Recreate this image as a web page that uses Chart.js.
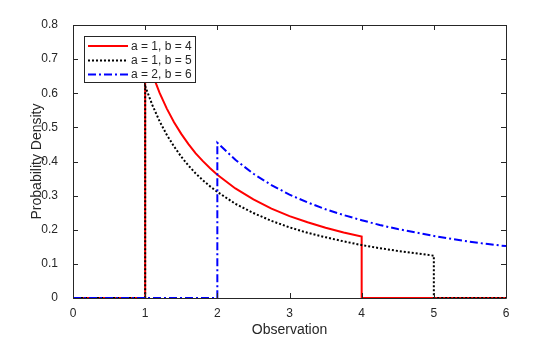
<!DOCTYPE html>
<html>
<head>
<meta charset="utf-8">
<script src="https://cdn.jsdelivr.net/npm/chart.js@4/dist/chart.umd.min.js"></script>
<style>
  html, body { margin: 0; padding: 0; background: #fff; }
  #wrap { width: 560px; height: 337px; }
</style>
</head>
<body>
<div id="wrap"><canvas id="grafica" width="560" height="337"></canvas></div>
<script>
// densidades recíprocas (x, y)
const xRojo = [0, 1, 1, 1.1, 1.2, 1.3, 1.4, 1.5, 1.6, 1.7, 1.8, 1.9, 2, 2.25, 2.5, 2.75, 3, 3.25, 3.5, 3.75, 4, 4, 6];
const yRojo = [0, 0, 0.721, 0.656, 0.601, 0.555, 0.515, 0.481, 0.451, 0.424, 0.401, 0.380, 0.361, 0.321, 0.289, 0.262, 0.240, 0.222, 0.206, 0.192, 0.180, 0, 0];

const xNegro = [0, 1, 1, 1.1, 1.2, 1.3, 1.4, 1.5, 1.6, 1.7, 1.8, 1.9, 2, 2.25, 2.5, 2.75, 3, 3.25, 3.5, 3.75, 4, 4.25, 4.5, 4.75, 5, 5, 6];
const yNegro = [0, 0, 0.621, 0.565, 0.518, 0.478, 0.444, 0.414, 0.388, 0.365, 0.345, 0.327, 0.311, 0.276, 0.249, 0.226, 0.207, 0.191, 0.178, 0.166, 0.155, 0.146, 0.138, 0.131, 0.124, 0, 0];

const xAzul = [0, 2, 2, 2.25, 2.5, 2.75, 3, 3.25, 3.5, 3.75, 4, 4.25, 4.5, 4.75, 5, 5.25, 5.5, 5.75, 6];
const yAzul = [0, 0, 0.455, 0.405, 0.364, 0.331, 0.303, 0.280, 0.260, 0.243, 0.228, 0.214, 0.202, 0.192, 0.182, 0.173, 0.165, 0.158, 0.152];

const etiquetas = ["a = 1, b = 4", "a = 1, b = 5", "a = 2, b = 6"];
const ticksX = [0, 1, 2, 3, 4, 5, 6];
const ticksY = [0, 0.1, 0.2, 0.3, 0.4, 0.5, 0.6, 0.7, 0.8];

const FUENTE = "'Liberation Sans', Arial, Helvetica, sans-serif";
const GRIS = "#262626";

const puntos = (xs, ys) => xs.map((x, i) => ({ x: x, y: ys[i] }));

// marco con marcas hacia dentro en los cuatro lados
const marco = {
  id: "marco",
  afterDatasetsDraw(chart) {
    const { ctx, chartArea: a, scales } = chart;
    ctx.save();
    ctx.strokeStyle = GRIS;
    ctx.lineWidth = 1;
    ctx.beginPath();
    ctx.rect(Math.round(a.left) + 0.5, Math.round(a.top) + 0.5,
             Math.round(a.right - a.left), Math.round(a.bottom - a.top));
    const L = 5;
    ticksX.forEach(v => {
      const px = Math.round(scales.x.getPixelForValue(v)) + 0.5;
      ctx.moveTo(px, a.bottom); ctx.lineTo(px, a.bottom - L);
      ctx.moveTo(px, a.top); ctx.lineTo(px, a.top + L);
    });
    ticksY.forEach(v => {
      const py = Math.round(scales.y.getPixelForValue(v)) + 0.5;
      ctx.moveTo(a.left, py); ctx.lineTo(a.left + L, py);
      ctx.moveTo(a.right, py); ctx.lineTo(a.right - L, py);
    });
    ctx.stroke();
    ctx.restore();
  }
};

// leyenda dentro del área del gráfico, arriba a la izquierda
const leyenda = {
  id: "leyenda",
  afterDraw(chart) {
    const { ctx } = chart;
    const x0 = 84.5, y0 = 36.5, w = 111, h = 46;
    ctx.save();
    ctx.fillStyle = "#fff";
    ctx.fillRect(x0, y0, w, h);
    ctx.strokeStyle = GRIS;
    ctx.lineWidth = 1;
    ctx.strokeRect(x0, y0, w, h);
    const filas = [46, 60.5, 74.5];
    chart.data.datasets.forEach((ds, i) => {
      ctx.beginPath();
      ctx.strokeStyle = ds.borderColor;
      ctx.lineWidth = ds.borderWidth;
      ctx.setLineDash(ds.borderDash || []);
      ctx.moveTo(88, filas[i]);
      ctx.lineTo(128, filas[i]);
      ctx.stroke();
      ctx.setLineDash([]);
      ctx.fillStyle = GRIS;
      ctx.font = "12px " + FUENTE;
      ctx.textBaseline = "middle";
      ctx.textAlign = "left";
      ctx.fillText(ds.label, 131, filas[i] + 0.5);
    });
    ctx.restore();
  }
};

const serie = (label, data, color, dash, orden) => ({
  label: label,
  data: data,
  borderColor: color,
  borderWidth: 2,
  borderDash: dash,
  pointRadius: 0,
  fill: false,
  tension: 0,
  order: orden
});

new Chart(document.getElementById("grafica").getContext("2d"), {
  type: "line",
  data: {
    datasets: [
      serie(etiquetas[0], puntos(xRojo, yRojo), "#ff0000", [], 3),
      serie(etiquetas[1], puntos(xNegro, yNegro), "#000000", [2, 2], 2),
      serie(etiquetas[2], puntos(xAzul, yAzul), "#0000ff", [8, 3, 2, 3], 1)
    ]
  },
  options: {
    responsive: false,
    animation: false,
    layout: { padding: { left: 30, top: 25, right: 54, bottom: 0 } },
    plugins: { legend: { display: false }, tooltip: { enabled: false } },
    scales: {
      x: {
        type: "linear",
        min: 0, max: 6,
        grid: { display: false },
        border: { display: false },
        afterBuildTicks: s => { s.ticks = ticksX.map(v => ({ value: v })); },
        afterFit: s => { s.height = 39; },
        ticks: { color: GRIS, font: { family: FUENTE, size: 12 }, padding: 0, maxRotation: 0 },
        title: { display: true, text: "Observation", color: GRIS, font: { family: FUENTE, size: 14, lineHeight: 1 }, padding: 0 }
      },
      y: {
        type: "linear",
        min: 0, max: 0.8,
        grid: { display: false },
        border: { display: false },
        afterBuildTicks: s => { s.ticks = ticksY.map(v => ({ value: v })); },
        afterFit: s => { s.width = 43; },
        ticks: { color: GRIS, font: { family: FUENTE, size: 12 }, padding: 7,
                 callback: v => (v === 0 ? "0" : v.toFixed(1)) },
        title: { display: true, text: "Probability Density", color: GRIS, font: { family: FUENTE, size: 14, lineHeight: 1 }, padding: 0 }
      }
    }
  },
  plugins: [marco, leyenda]
});
</script>
</body>
</html>
